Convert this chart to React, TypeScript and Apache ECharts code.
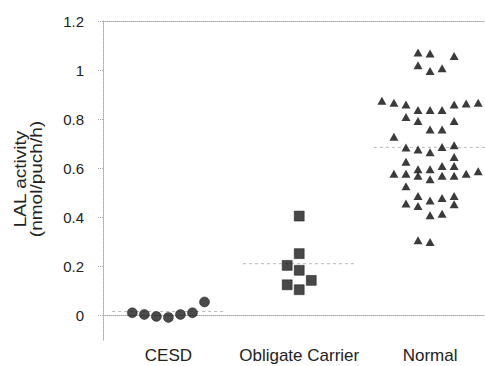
import React, { useEffect, useRef } from "react";
import * as echarts from "echarts";

const categories = ["CESD", "Obligate Carrier", "Normal"];
const yTicks = [0, 0.2, 0.4, 0.6, 0.8, 1, 1.2];

// CESD (circles): column offsets and values
const cesdCols = [-3, -2, -1, 0, 1, 2, 3];
const cesdValues = [0.011, 0.004, -0.004, -0.008, 0.004, 0.011, 0.055];

// Obligate Carrier (squares)
const carrierCols = [0, 0, -1, 0, 1, -1, 0];
const carrierValues = [0.405, 0.252, 0.204, 0.184, 0.143, 0.125, 0.105];

// Normal (triangles)
const normalCols = [
  -1, 0, 2, -1, 0, 1,
  -4, -3, -2, -1, 0, 1, 2, 3, 4,
  -2, -1, 2,
  0, 1,
  -3,
  -2, -1, 0, 1, 2,
  2,
  -2,
  -1, 0, 1, 2,
  -3, -2, -1, 0, 1, 2, 3, 4,
  -2,
  -1, 0, 1, 2,
  -2, -1, 2,
  0, 1,
  -1, 0,
];
const normalValues = [
  1.072, 1.068, 1.057, 1.02, 0.996, 1.007,
  0.875, 0.867, 0.86, 0.837, 0.837, 0.837, 0.86, 0.864, 0.867,
  0.809, 0.792, 0.792,
  0.758, 0.758,
  0.728,
  0.684, 0.676, 0.665, 0.687, 0.694,
  0.646,
  0.626,
  0.596, 0.596, 0.609, 0.609,
  0.578, 0.578, 0.569, 0.555, 0.569, 0.569, 0.578, 0.588,
  0.527,
  0.487, 0.469, 0.479, 0.487,
  0.456, 0.446, 0.453,
  0.408, 0.415,
  0.306, 0.299,
];

// Medians (dotted lines)
const medians = [0.016, 0.211, 0.685];

const COL = 0.092; // horizontal spacing of swarm columns (x units)
const HALF = 0.43; // half-length of median lines (x units)

function pts(center: number, cols: number[], vals: number[]) {
  return vals.map((v, i) => [center + cols[i] * COL, v]);
}

export default function App() {
  const ref = useRef<HTMLDivElement>(null);
  useEffect(() => {
    if (!ref.current) return;
    const chart = echarts.init(ref.current, null, { renderer: "svg" });
    const font = "'Liberation Sans', Arial, sans-serif";
    const axisGray = "#a8a8a8";
    const medianSeries = medians.map((m, i) => ({
      type: "line",
      data: [
        [i + 1 - HALF, m],
        [i + 1 + HALF, m],
      ],
      symbol: "none",
      silent: true,
      lineStyle: { color: "#b8b8b8", width: 1, type: [3, 3] },
      z: 1,
    }));
    chart.setOption({
      animation: false,
      backgroundColor: "#ffffff",
      grid: { left: 103, right: 0, top: 21, bottom: 26 },
      xAxis: [
        {
          type: "value",
          min: 0.5,
          max: 3.42,
          axisLine: { show: true, lineStyle: { color: axisGray, type: "dotted", width: 1 } },
          axisTick: { show: false },
          splitLine: { show: false },
          axisLabel: {
            customValues: [1, 2, 3],
            formatter: (v: number) => categories[Math.round(v) - 1] ?? "",
            color: "#222",
            fontSize: 17,
            fontFamily: font,
            margin: 7,
          },
        },
        {
          type: "value",
          position: "top",
          min: 0.5,
          max: 3.42,
          axisLine: { show: true, lineStyle: { color: axisGray, type: "dotted", width: 1 } },
          axisTick: { show: false },
          axisLabel: { show: false },
          splitLine: { show: false },
        },
      ],
      yAxis: {
        type: "value",
        min: -0.1,
        max: 1.2,
        axisLine: { show: true, lineStyle: { color: axisGray, type: "dotted", width: 1 } },
        axisTick: {
          show: true,
          customValues: yTicks,
          length: 5,
          lineStyle: { color: axisGray, type: "dotted" },
        },
        splitLine: { show: false },
        axisLabel: {
          customValues: yTicks,
          formatter: (v: number) => String(Math.round(v * 10) / 10),
          color: "#222",
          fontSize: 15,
          fontFamily: font,
          margin: 19,
        },
      },
      graphic: [
        {
          type: "text",
          x: 28,
          y: 179,
          rotation: Math.PI / 2,
          scaleX: 1.12,
          style: {
            text: "LAL activity\n(nmol/puch/h)",
            fill: "#222",
            font: `17px ${font}`,
            textAlign: "center",
            textVerticalAlign: "middle",
            lineHeight: 16,
          },
        },
      ],
      series: [
        ...medianSeries,
        {
          type: "scatter",
          data: pts(1, cesdCols, cesdValues),
          symbol: "circle",
          symbolSize: 10,
          itemStyle: { color: "#1e1e1e", borderColor: "#000", borderWidth: 0.5 },
          z: 3,
        },
        {
          type: "scatter",
          data: pts(2, carrierCols, carrierValues),
          symbol: "rect",
          symbolSize: 10,
          itemStyle: { color: "#1a1a1a", borderColor: "#000", borderWidth: 0.5 },
          z: 3,
        },
        {
          type: "scatter",
          data: pts(3, normalCols, normalValues),
          symbol: "triangle",
          symbolSize: [9, 8],
          itemStyle: { color: "#0a0a0a" },
          z: 3,
        },
      ],
    });
    return () => chart.dispose();
  }, []);
  return (
    <div
      ref={ref}
      style={{ position: "fixed", left: 0, top: 0, width: 485, height: 366, background: "#fff" }}
    />
  );
}
